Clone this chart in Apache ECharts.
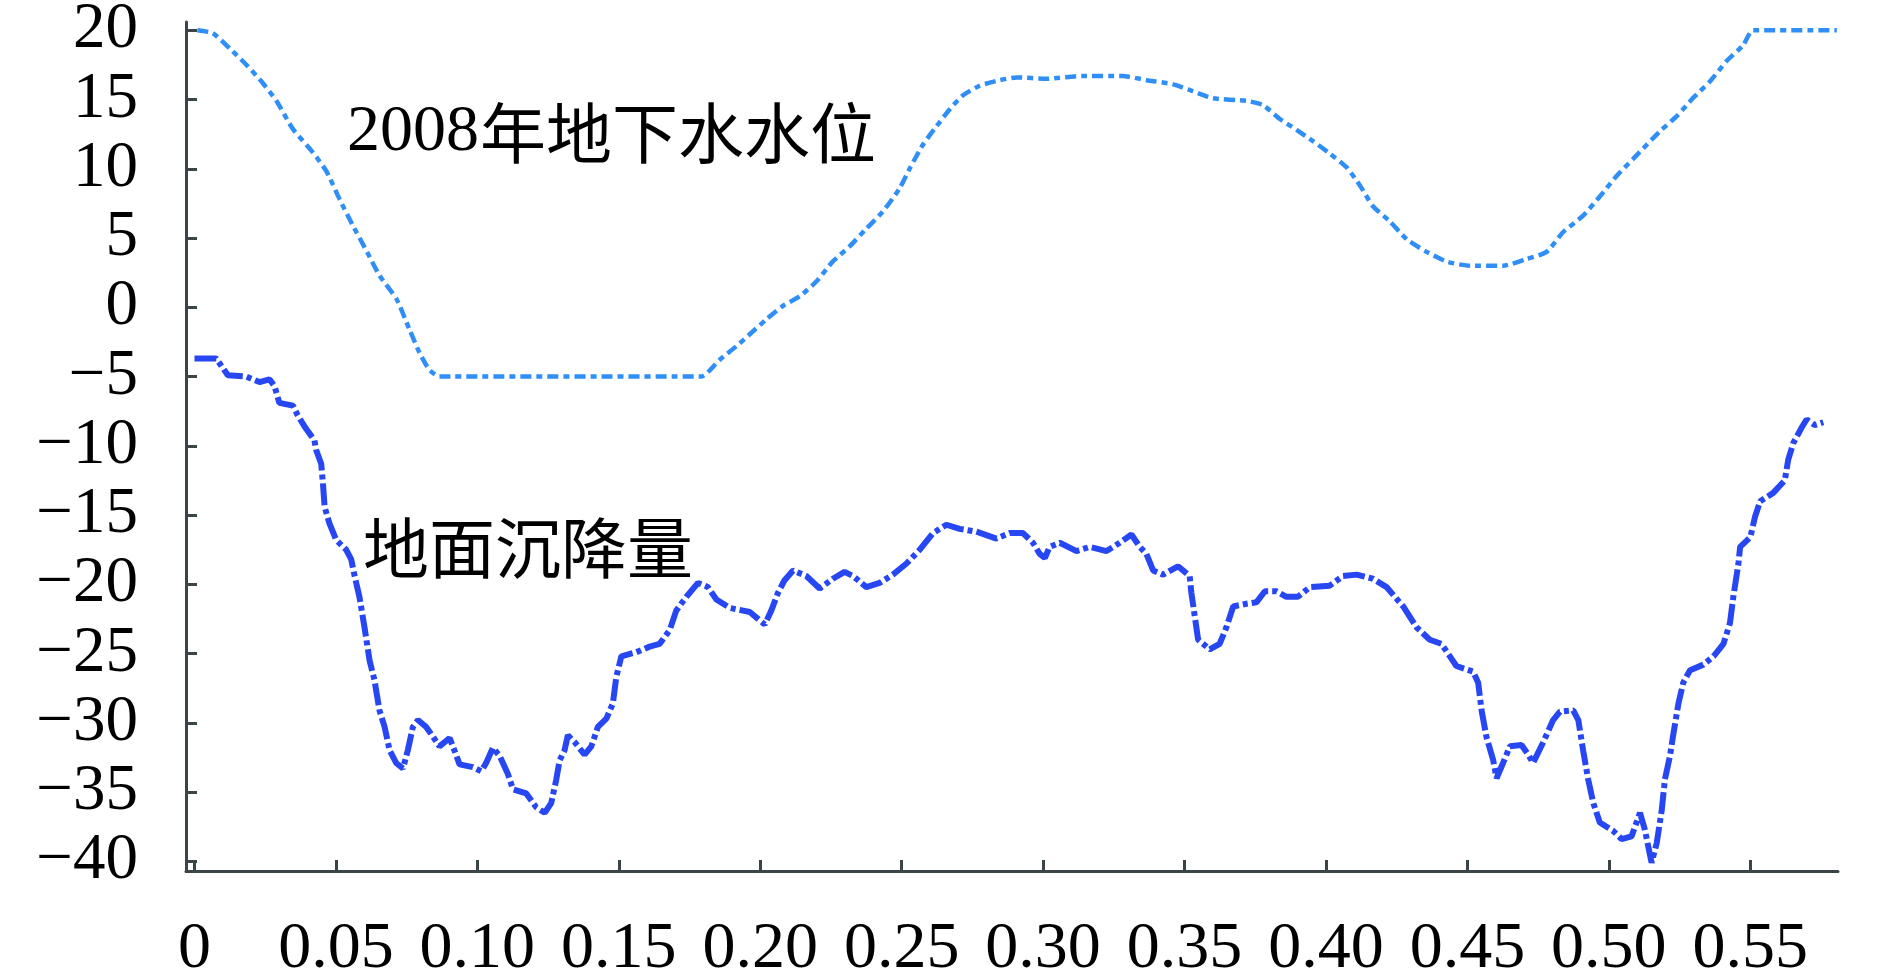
<!DOCTYPE html>
<html>
<head>
<meta charset="utf-8">
<title>地下水水位与地面沉降量</title>
<script src="https://cdn.jsdelivr.net/npm/echarts@6/dist/echarts.min.js"></script>
<style>
    html, body { margin: 0; padding: 0; background: #fff; }
    #chart { width: 1890px; height: 977px; }
</style>
</head>
<body>
<div id="chart"></div>
<script>
    // tick positions on both axes
    var xTicks = [0, 0.05, 0.10, 0.15, 0.20, 0.25, 0.30, 0.35, 0.40, 0.45, 0.50, 0.55];
    var yTicks = [-40, -35, -30, -25, -20, -15, -10, -5, 0, 5, 10, 15, 20];

    // 2008年地下水水位
    var waterX = [0.001, 0.0064, 0.0124, 0.0184, 0.0237, 0.029, 0.0347, 0.0418, 0.0467, 0.0513,
        0.056, 0.061, 0.0654, 0.0714, 0.076, 0.0796, 0.083, 0.0866, 0.179, 0.1856,
        0.1916, 0.196, 0.202, 0.208, 0.214, 0.220, 0.2256, 0.2316, 0.2376, 0.2433,
        0.2493, 0.2528, 0.2574, 0.2624, 0.267, 0.2716, 0.2776, 0.2847, 0.2907, 0.301,
        0.314, 0.328, 0.3366, 0.346, 0.353, 0.360, 0.372, 0.3777, 0.3837, 0.3897,
        0.3954, 0.4013, 0.4073, 0.412, 0.4166, 0.4226, 0.4286, 0.4356, 0.4427, 0.451,
        0.4625, 0.471, 0.478, 0.4837, 0.4908, 0.4968, 0.5028, 0.5085, 0.518, 0.524,
        0.5297, 0.5357, 0.5417, 0.5474, 0.551, 0.5806];
    var waterY = [20.0, 19.8, 18.7, 17.5, 16.3, 14.9, 12.9, 11.2, 9.8, 7.8,
        5.9, 4.0, 2.3, 0.6, -1.6, -3.3, -4.5, -5.0, -5.0, -3.8,
        -2.8, -2.0, -0.9, 0.1, 0.8, 1.9, 3.3, 4.4, 5.7, 6.9,
        8.6, 10.0, 11.7, 13.1, 14.3, 15.3, 16.0, 16.4, 16.6, 16.5,
        16.7, 16.7, 16.4, 16.1, 15.6, 15.1, 14.9, 14.6, 13.6, 12.8,
        12.0, 11.1, 10.1, 8.8, 7.3, 6.2, 4.9, 4.0, 3.3, 3.0,
        3.0, 3.5, 4.0, 5.4, 6.6, 8.0, 9.5, 10.7, 12.7, 13.8,
        15.1, 16.3, 17.8, 18.9, 20.0, 20.0];

    // 地面沉降量
    var sinkX = [0.0, 0.0077, 0.0094, 0.0118, 0.0183, 0.023, 0.0265, 0.0283, 0.030, 0.0348,
        0.0365, 0.0389, 0.0424, 0.043, 0.0448, 0.0454, 0.046, 0.0477, 0.0501, 0.0536,
        0.0554, 0.0566, 0.0583, 0.0601, 0.0619, 0.0636, 0.0654, 0.0672, 0.069, 0.0713,
        0.0737, 0.0754, 0.0772, 0.079, 0.0819, 0.0843, 0.0866, 0.0902, 0.0919, 0.0937,
        0.0984, 0.1014, 0.1031, 0.1055, 0.1079, 0.1108, 0.1126, 0.1173, 0.1208, 0.1238,
        0.1261, 0.1279, 0.1291, 0.1308, 0.132, 0.1344, 0.1379, 0.1403, 0.1426, 0.1456,
        0.1479, 0.1491, 0.1509, 0.1562, 0.1609, 0.1644, 0.168, 0.1703, 0.1739, 0.178,
        0.1815, 0.1845, 0.1892, 0.1963, 0.1998, 0.2016, 0.2039, 0.2063, 0.2086, 0.2116,
        0.2163, 0.221, 0.2257, 0.2298, 0.2328, 0.2375, 0.2422, 0.2469, 0.2517, 0.2564,
        0.2611, 0.2658, 0.2705, 0.2764, 0.2835, 0.2882, 0.2929, 0.2964, 0.2988, 0.3006,
        0.3023, 0.3059, 0.3118, 0.3165, 0.3224, 0.3271, 0.3312, 0.3342, 0.3365, 0.3389,
        0.3424, 0.3477, 0.3518, 0.3524, 0.3536, 0.3548, 0.3589, 0.3624, 0.3648, 0.3672,
        0.3719, 0.3754, 0.3784, 0.3825, 0.386, 0.3901, 0.3943, 0.4013, 0.406, 0.4108,
        0.4166, 0.4214, 0.4273, 0.432, 0.4367, 0.4408, 0.4438, 0.4461, 0.452, 0.4538,
        0.455, 0.4567, 0.4591, 0.4603, 0.4626, 0.465, 0.4691, 0.4715, 0.4732, 0.4768,
        0.4803, 0.4827, 0.4874, 0.4892, 0.4909, 0.4927, 0.4945, 0.4968, 0.5015, 0.5045,
        0.508, 0.511, 0.5127, 0.5139, 0.5151, 0.5169, 0.5187, 0.5198, 0.5216, 0.5228,
        0.5246, 0.5263, 0.5287, 0.5334, 0.537, 0.5405, 0.5428, 0.544, 0.5458, 0.5464,
        0.55, 0.5517, 0.5535, 0.5581, 0.5622, 0.5634, 0.5652, 0.5681, 0.5699, 0.5728,
        0.5758];
    var sinkY = [-3.7, -3.7, -4.2, -4.9, -5.0, -5.4, -5.2, -5.7, -6.9, -7.1,
        -7.8, -8.6, -9.6, -10.3, -11.3, -12.7, -14.4, -15.6, -16.8, -17.5,
        -18.2, -19.4, -20.9, -23.1, -25.5, -26.9, -29.1, -30.3, -32.0, -32.9,
        -33.3, -32.0, -30.3, -29.8, -30.3, -31.0, -31.7, -31.1, -32.0, -33.0,
        -33.2, -33.5, -32.9, -31.8, -32.4, -33.7, -34.8, -35.1, -36.1, -36.5,
        -35.8, -34.1, -32.7, -32.0, -30.9, -31.4, -32.3, -31.7, -30.3, -29.7,
        -28.6, -26.7, -25.2, -24.9, -24.5, -24.3, -23.3, -21.9, -20.9, -19.9,
        -20.2, -21.1, -21.7, -22.0, -22.6, -22.9, -21.9, -20.6, -19.7, -19.0,
        -19.4, -20.3, -19.6, -19.1, -19.4, -20.2, -19.9, -19.3, -18.5, -17.5,
        -16.3, -15.7, -16.0, -16.2, -16.7, -16.3, -16.3, -17.0, -17.8, -18.1,
        -17.3, -17.0, -17.6, -17.3, -17.6, -17.0, -16.4, -17.3, -17.8, -19.0,
        -19.3, -18.7, -19.4, -20.6, -22.3, -24.0, -24.7, -24.3, -23.1, -21.6,
        -21.4, -21.3, -20.5, -20.5, -20.9, -20.9, -20.2, -20.1, -19.4, -19.3,
        -19.6, -20.2, -21.6, -23.1, -24.0, -24.3, -25.2, -25.9, -26.3, -27.1,
        -29.1, -31.0, -32.7, -34.0, -32.9, -31.7, -31.6, -32.3, -32.9, -31.4,
        -29.8, -29.2, -29.1, -29.8, -32.0, -34.1, -35.8, -37.2, -37.8, -38.4,
        -38.2, -36.5, -37.7, -38.9, -40.1, -38.7, -36.3, -34.1, -32.4, -30.8,
        -28.6, -27.1, -26.2, -25.8, -25.2, -24.3, -22.8, -20.9, -18.5, -17.3,
        -16.6, -15.1, -14.0, -13.4, -12.5, -11.0, -9.8, -8.7, -8.1, -8.5,
        -8.3];

    function zip(xs, ys) {
        return xs.map(function (x, i) { return [x, ys[i]]; });
    }

    var axisColor = '#3b4547';
    var serifFont = 'Liberation Serif';
    var cjkFont = 'Noto Sans CJK SC';

    var chart = echarts.init(document.getElementById('chart'));
    chart.setOption({
        animation: false,
        backgroundColor: '#fff',
        grid: {
            left: 186,
            right: 52,
            top: 22,
            bottom: 106,
            outerBoundsMode: 'none'
        },
        xAxis: {
            type: 'value',
            min: -0.003,
            max: 0.581,
            splitLine: {show: false},
            axisLine: {
                onZero: false,
                lineStyle: {color: axisColor, width: 3}
            },
            axisTick: {
                inside: true,
                length: 11,
                customValues: xTicks,
                lineStyle: {color: axisColor, width: 3}
            },
            axisLabel: {
                customValues: xTicks,
                margin: 46,
                color: '#000',
                fontSize: 66,
                fontFamily: serifFont,
                formatter: function (v) {
                    return v === 0 ? '0' : v.toFixed(2);
                }
            }
        },
        yAxis: {
            type: 'value',
            min: -40.7,
            max: 20.6,
            splitLine: {show: false},
            axisLine: {
                show: true,
                onZero: false,
                lineStyle: {color: axisColor, width: 3}
            },
            axisTick: {
                show: true,
                inside: true,
                length: 11,
                customValues: yTicks,
                lineStyle: {color: axisColor, width: 3}
            },
            axisLabel: {
                customValues: yTicks,
                margin: 48,
                color: '#000',
                fontSize: 65,
                fontFamily: serifFont,
                formatter: function (v) {
                    return v < 0 ? '\u2212' + Math.abs(v) : String(v);
                }
            }
        },
        series: [
            {
                name: '2008年地下水水位',
                type: 'line',
                data: zip(waterX, waterY),
                showSymbol: false,
                smooth: 0.2,
                lineStyle: {
                    color: '#2f8ff7',
                    width: 4.5,
                    type: [11, 5, 6, 5]
                }
            },
            {
                name: '地面沉降量',
                type: 'line',
                data: zip(sinkX, sinkY),
                showSymbol: false,
                lineStyle: {
                    color: '#2747f2',
                    width: 6,
                    type: [22, 4, 5, 4]
                }
            }
        ],
        graphic: [
            {
                type: 'text',
                left: 347,
                top: 100,
                style: {
                    text: '2008',
                    fill: '#000',
                    font: 'normal 66px "Liberation Serif", serif'
                }
            },
            {
                type: 'text',
                left: 480,
                top: 100,
                style: {
                    text: '年地下水水位',
                    fill: '#000',
                    font: 'normal 66px "Noto Sans CJK SC", sans-serif'
                }
            },
            {
                type: 'text',
                left: 363,
                top: 515,
                style: {
                    text: '地面沉降量',
                    fill: '#000',
                    font: 'normal 66px "Noto Sans CJK SC", sans-serif'
                }
            }
        ]
    });
</script>
</body>
</html>
